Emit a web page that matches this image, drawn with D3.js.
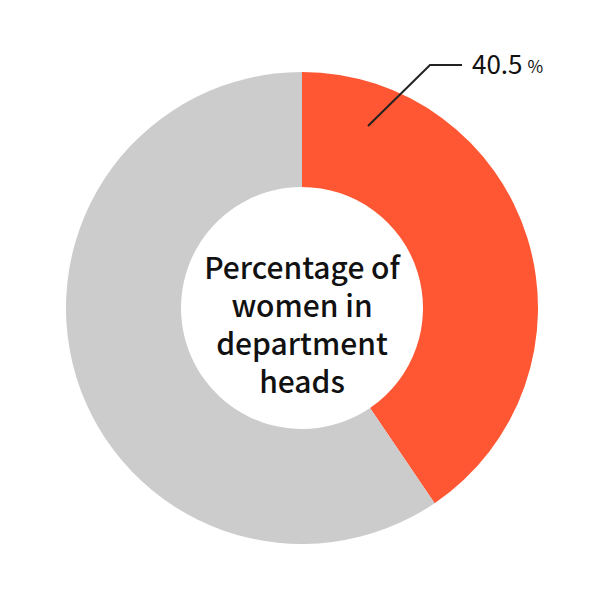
<!DOCTYPE html>
<html><head><meta charset="utf-8">
<script src="https://cdn.jsdelivr.net/npm/d3@7"></script>
<style>html,body{margin:0;padding:0;background:#fff;}</style>
</head><body>
<svg id="c" width="605" height="605"></svg>
<script>
const categories = ["Women", "Men"];
const values = [40.5, 59.5];
const colors = ["#FF5733", "#CCCCCC"];
const centerLines = ["Percentage of", "women in", "department", "heads"];
const labelValue = "40.5";
const labelUnit = "%";

const svg = d3.select("#c");
const cx = 302, cy = 308, rOuter = 236, rInner = 121;
const g = svg.append("g").attr("transform", `translate(${cx},${cy})`);
const pie = d3.pie().sort(null).value(d => d)(values);
const arc = d3.arc().innerRadius(rInner).outerRadius(rOuter);
g.selectAll("path").data(pie).join("path")
  .attr("d", arc).attr("fill", (d, i) => colors[i]);

const font = "'Noto Sans CJK JP','Noto Sans',sans-serif";
const t = g.append("text").attr("text-anchor", "middle")
  .attr("font-family", font).attr("font-size", 30).attr("font-weight", 500).attr("fill", "#111");
centerLines.forEach((l, i) => {
  t.append("tspan").attr("x", 0).attr("y", -29 + i * 38).text(l);
});

// leader line
svg.append("polyline")
  .attr("points", "368,126 430,65 462,65")
  .attr("fill", "none").attr("stroke", "#222").attr("stroke-width", 2);
const lt = svg.append("text").attr("x", 472).attr("y", 74)
  .attr("font-family", font).attr("fill", "#111");
lt.append("tspan").attr("font-size", 26).text(labelValue);
lt.append("tspan").attr("font-size", 17).attr("dx", 5).attr("dy", -1).text(labelUnit);
</script>
</body></html>
